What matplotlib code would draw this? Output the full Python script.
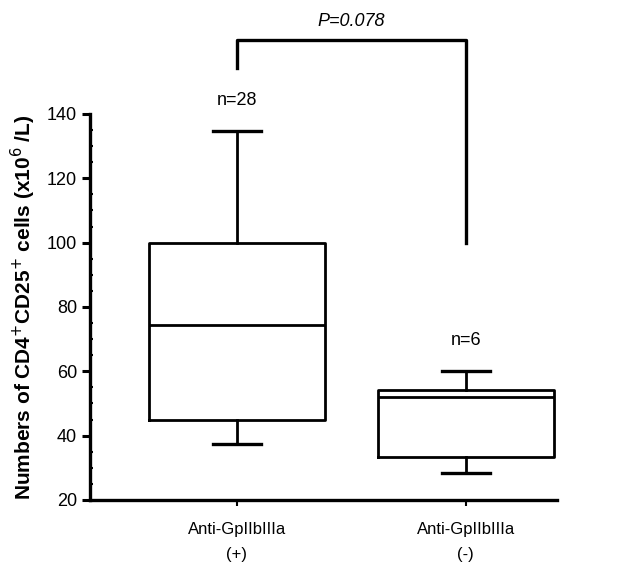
import matplotlib.pyplot as plt
from matplotlib.ticker import MultipleLocator

plt.rcParams["font.family"] = ["Liberation Sans", "DejaVu Sans"]

# Werte
groups = ["Anti-GpIIbIIIa\n(+)", "Anti-GpIIbIIIa\n(-)"]
n_labels = ["n=28", "n=6"]
whis_low = [37.3, 28.3]
q1 = [44.9, 33.4]
median = [74.4, 52.0]
q3 = [100.0, 54.2]
whis_high = [134.6, 60.2]
p_text = "P=0.078"

stats = []
for i in range(len(groups)):
    stats.append({"whislo": whis_low[i], "q1": q1[i], "med": median[i],
                  "q3": q3[i], "whishi": whis_high[i], "fliers": []})

fig = plt.figure(figsize=(6.17, 5.64), dpi=100)
ax = fig.add_axes([0.146, 0.1135, 0.757, 0.6845])

line = dict(color="black", linewidth=2.0)
ax.bxp(stats, positions=[1, 2], widths=0.77, showfliers=False,
       boxprops=line, whiskerprops=line, capprops=dict(color="black", linewidth=2.4),
       medianprops=line, capwidths=0.21)

ax.set_xlim(0.358, 2.4)
ax.set_ylim(20, 140)
ax.yaxis.set_major_locator(MultipleLocator(20))
ax.yaxis.set_minor_locator(MultipleLocator(5))
ax.set_xticks([1, 2])
ax.set_xticklabels(groups, fontsize=12, linespacing=1.8)
ax.tick_params(axis="y", which="major", labelsize=13, width=2.2, length=6, direction="out")
ax.tick_params(axis="y", which="minor", width=1.5, length=2.5, direction="in")
ax.tick_params(axis="x", width=1.5, length=4, direction="out", pad=12)

for s in ["top", "right"]:
    ax.spines[s].set_visible(False)
for s in ["left", "bottom"]:
    ax.spines[s].set_linewidth(2.4)

ax.set_ylabel("Numbers of CD4$^{+}$CD25$^{+}$ cells (x10$^{6}$ /L)",
              fontsize=15, fontweight="bold", labelpad=6)

# n-Beschriftungen über den Boxen
for i, lab in enumerate(n_labels):
    ax.text(i + 1, whis_high[i] + 9.5, lab, ha="center", va="center", fontsize=13)

# Klammer mit P-Wert
ax.plot([1, 1, 2, 2], [154.4, 163.1, 163.1, 100], color="black",
        linewidth=2.4, clip_on=False)
ax.text(1.5, 168.7, p_text, ha="center", va="center", fontsize=13, style="italic")

plt.savefig("out.png", dpi=100)
